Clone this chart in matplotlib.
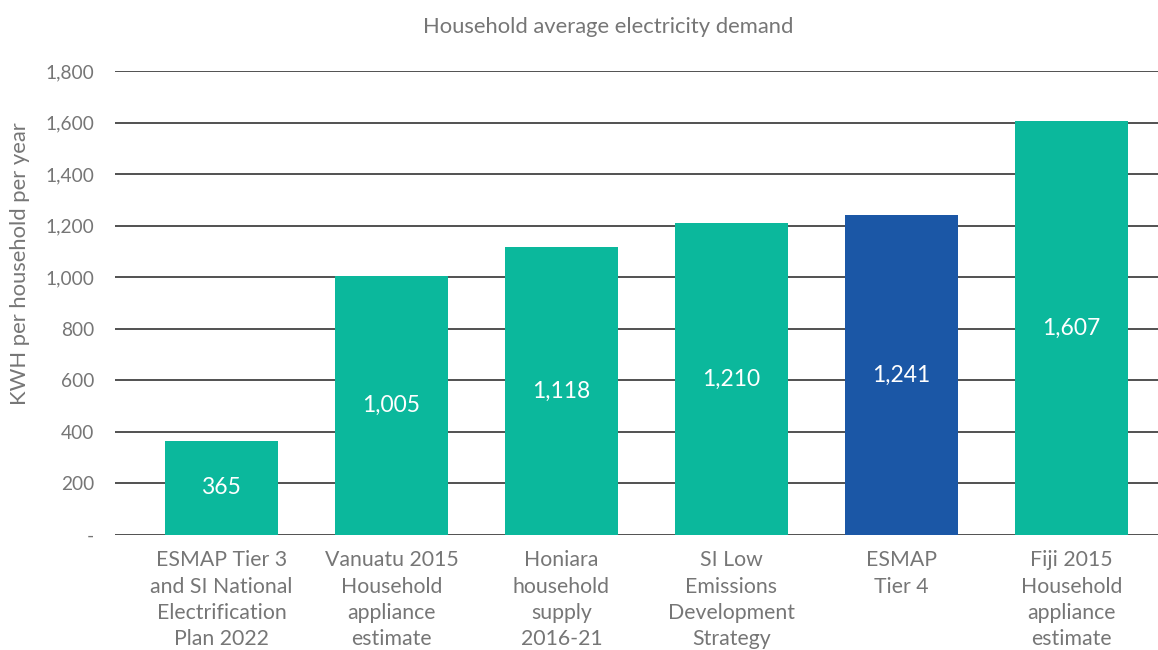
import matplotlib
matplotlib.use("Agg")
import matplotlib.pyplot as plt
from matplotlib.ticker import FuncFormatter

categories = [
    "ESMAP Tier 3\nand SI National\nElectrification\nPlan 2022",
    "Vanuatu 2015\nHousehold\nappliance\nestimate",
    "Honiara\nhousehold\nsupply\n2016-21",
    "SI Low\nEmissions\nDevelopment\nStrategy",
    "ESMAP\nTier 4",
    "Fiji 2015\nHousehold\nappliance\nestimate",
]
values = [365, 1005, 1118, 1210, 1241, 1607]
highlight = [False, False, False, False, True, False]
yticks = [0, 200, 400, 600, 800, 1000, 1200, 1400, 1600, 1800]

TEAL = "#0bb89c"
BLUE = "#1b57a6"
GREY = "#767676"

plt.rcParams["font.family"] = ["Lato", "DejaVu Sans"]

fig = plt.figure(figsize=(11.58, 6.5), dpi=100)
ax = fig.add_axes([115 / 1158, 1 - 535 / 650, 1043 / 1158, 464 / 650])

x = list(range(len(values)))
colors = [BLUE if h else TEAL for h in highlight]
ax.bar(x, values, width=0.665, color=colors, zorder=3)

# value labels sit at mid-height of each bar
for xi, v in zip(x, values):
    ax.text(xi, v / 2, f"{v:,}", ha="center", va="center", color="white",
            fontsize=16.5, zorder=4)

ax.set_ylim(0, 1800)
ax.set_xlim(-0.626, 5.51)
ax.set_yticks(yticks)
ax.yaxis.set_major_formatter(FuncFormatter(lambda v, _: "-" if v == 0 else f"{int(v):,}"))
ax.set_xticks(x)
ax.set_xticklabels(categories, fontsize=15.3, color=GREY, linespacing=1.4)
ax.tick_params(axis="y", length=0, pad=15, labelsize=13.8, labelcolor=GREY)
ax.tick_params(axis="x", length=0, pad=11)

ax.grid(axis="y", color="#222222", lw=1.1, zorder=0)
ax.set_axisbelow(True)
for s in ax.spines.values():
    s.set_visible(False)

fig.text(608 / 1158, 1 - 27 / 650, "Household average electricity demand",
         ha="center", va="center", fontsize=15.8, color=GREY)
fig.text(20 / 1158, 1 - 264 / 650, "KWH per household per year", rotation=90,
         ha="center", va="center", fontsize=15.8, color=GREY)

fig.savefig("out.png", dpi=100)
